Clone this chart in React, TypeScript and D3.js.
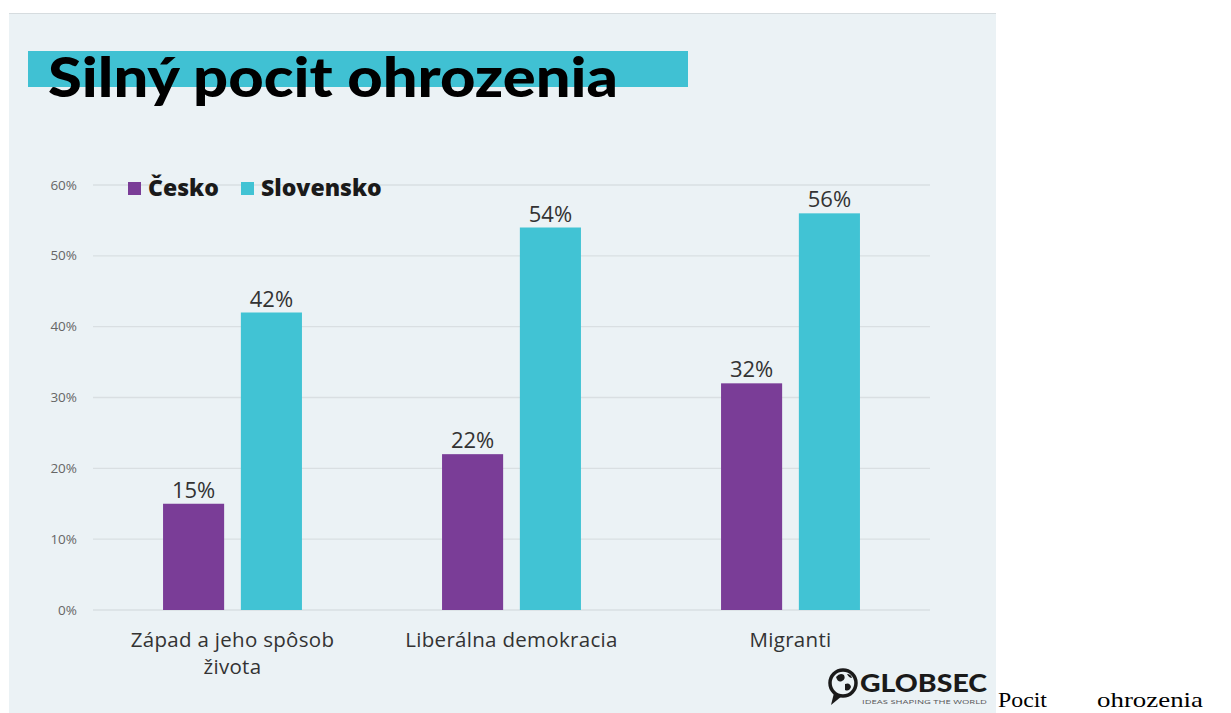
import React from "react";
import * as d3 from "d3";

const categories = ["Západ a jeho spôsob života", "Liberálna demokracia", "Migranti"];
const categoryLines = [["Západ a jeho spôsob", "života"], ["Liberálna demokracia"], ["Migranti"]];
const seriesNames = ["Česko", "Slovensko"];
const ceskoValues = [15, 22, 32];
const slovenskoValues = [42, 54, 56];
const yTicks = [0, 10, 20, 30, 40, 50, 60];

const COLORS = ["#7a3d97", "#41c3d4"];
const BG = "#ebf2f5";
const FONT = "'Open Sans', Lato, sans-serif";
const TITLE_FONT = "Lato, 'Open Sans', sans-serif";

export default function App() {
  const W = 1231, H = 713;
  const x0 = d3.scaleBand<string>().domain(categories).range([93, 930]).padding(0);
  const inner = d3.scaleBand<string>().domain(seriesNames).range([0, x0.bandwidth()]).paddingInner(0.215).paddingOuter(0.9);
  const y = d3.scaleLinear().domain([0, 60]).range([610, 185]);
  const series = [ceskoValues, slovenskoValues];

  return (
    <svg width={W} height={H} style={{ position: "absolute", left: 0, top: 0 }}>
      <rect x={0} y={0} width={W} height={H} fill="#ffffff" />
      <rect x={9} y={13} width={987} height={H - 13} fill={BG} />
      <line x1={9} x2={996} y1={13.5} y2={13.5} stroke="#d6dcdf" strokeWidth={1} />
      {/* title */}
      <rect x={28} y={51} width={660} height={36} fill="#40c1d3" />
      <text x={48} y={97} fontFamily={TITLE_FONT} fontWeight={900} fontSize={56} fill="#000" textLength={570} lengthAdjust="spacingAndGlyphs">Silný pocit ohrozenia</text>
      {/* grid */}
      {yTicks.map((t) => (
        <g key={t}>
          <line x1={93} x2={930} y1={y(t)} y2={y(t)} stroke="#d9dfe2" strokeWidth={1.3} />
          <text x={77} y={y(t) + 4.5} textAnchor="end" fontFamily={FONT} fontSize={13.5} fill="#666">{t}%</text>
        </g>
      ))}
      {/* legend */}
      {seriesNames.map((s, i) => {
        const lx = [128, 241][i];
        return (
          <g key={s}>
            <rect x={lx} y={182} width={13} height={13} fill={COLORS[i]} />
            <text x={lx + 20} y={196} fontFamily={FONT} fontWeight={800} fontSize={23} fill="#1a1a1a">{s}</text>
          </g>
        );
      })}
      {/* bars */}
      {categories.map((c, ci) => (
        <g key={c} transform={`translate(${x0(c)},0)`}>
          {seriesNames.map((s, si) => {
            const v = series[si][ci];
            const bx = inner(s)!;
            return (
              <g key={s}>
                <rect x={bx} y={y(v)} width={inner.bandwidth()} height={y(0) - y(v)} fill={COLORS[si]} />
                <text x={bx + inner.bandwidth() / 2} y={y(v) - 6} textAnchor="middle" fontFamily={FONT} fontSize={22} fill="#333">{v}%</text>
              </g>
            );
          })}
          {categoryLines[ci].map((ln, li) => (
            <text key={li} x={x0.bandwidth() / 2} y={647 + li * 27} textAnchor="middle" fontFamily={FONT} fontSize={20.5} fill="#333" letterSpacing={0.3}>{ln}</text>
          ))}
        </g>
      ))}
      {/* logo */}
      <g>
        <circle cx={843} cy={683} r={13} fill="none" stroke="#1a1a1a" strokeWidth={3.5} />
        <path d="M834,693 L831,705 L842,696 Z" fill="#1a1a1a" />
        <path d="M836,677 q4,-5 8,-2 q2,4 -2,6 q-4,2 -6,-4 Z" fill="#1a1a1a" />
        <path d="M845,684 q5,-2 6,3 q-2,5 -6,3 Z" fill="#1a1a1a" />
        <path d="M847,674 q4,0 5,4 q-3,0 -5,-4 Z" fill="#1a1a1a" />
        <text x={860} y={692} fontFamily={TITLE_FONT} fontWeight={900} fontSize={25} fill="#1a1a1a" textLength={127} lengthAdjust="spacingAndGlyphs">GLOBSEC</text>
        <text x={862} y={704} fontFamily={FONT} fontSize={6} fill="#555" textLength={125} lengthAdjust="spacingAndGlyphs">IDEAS SHAPING THE WORLD</text>
      </g>
      {/* trailing caption text */}
      <text x={998} y={707} fontFamily="'Liberation Serif', 'Times New Roman', serif" fontSize={22} fill="#000" textLength={49} lengthAdjust="spacingAndGlyphs">Pocit</text>
      <text x={1097} y={707} fontFamily="'Liberation Serif', 'Times New Roman', serif" fontSize={22} fill="#000" textLength={106} lengthAdjust="spacingAndGlyphs">ohrozenia</text>
    </svg>
  );
}
